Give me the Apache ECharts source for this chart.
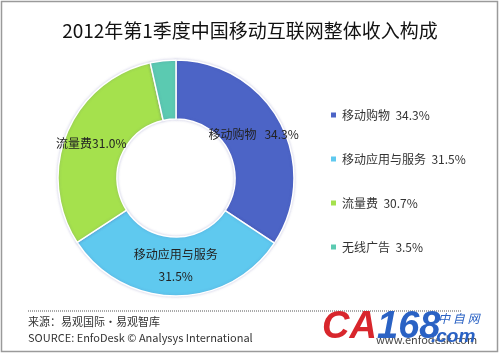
<!DOCTYPE html>
<html>
<head>
<meta charset="utf-8">
<script src="https://cdn.jsdelivr.net/npm/echarts@6/dist/echarts.min.js"></script>
<style>
  html, body { margin: 0; padding: 0; background: #fff; }
  #chart { width: 500px; height: 355px; }
</style>
</head>
<body>
<div id="chart"></div>
<script>
// 数据
const categories = ['移动购物', '移动应用与服务', '流量费', '无线广告'];
const shares = [34.3, 31.5, 30.7, 3.5];
// 图上标签（原图中流量费写的是 31.0%）
const sliceLabels = ['移动购物   34.3%', '移动应用与服务\n31.5%\n{s| }', '流量费31.0%', ''];
const colors = ['#4c64c6', '#5fc9ef', '#a5e14d', '#5bcab1'];

const font = '"Noto Sans CJK SC", "Noto Sans", sans-serif';

const chart = echarts.init(document.getElementById('chart'));

const option = {
    animation: false,
    textStyle: { fontFamily: font },
    title: {
        text: '2012年第1季度中国移动互联网整体收入构成',
        left: 'center',
        top: 16,
        textStyle: { fontFamily: font, fontSize: 19, fontWeight: 'normal', color: '#111' }
    },
    legend: {
        orient: 'vertical',
        left: 324,
        top: 104,
        itemWidth: 7,
        itemHeight: 7,
        itemGap: 32,
        icon: 'rect',
        data: categories,
        formatter: function (name) {
            const i = categories.indexOf(name);
            return name + '  ' + shares[i] + '%';
        },
        textStyle: { fontFamily: font, fontSize: 12, color: '#333' }
    },
    series: [
        {
            type: 'pie',
            center: [176, 178],
            radius: [59, 118],
            startAngle: 90,
            clockwise: true,
            color: colors,
            itemStyle: {
                borderColor: '#fff',
                borderWidth: 1.5,
                shadowColor: 'rgba(80,80,160,0.25)',
                shadowBlur: 3
            },
            label: {
                show: true,
                position: 'inside',
                fontFamily: font,
                fontSize: 12,
                color: '#222',
                lineHeight: 22,
                rich: {
                    s: { fontSize: 1, lineHeight: 9 }
                },
                formatter: function (p) { return sliceLabels[p.dataIndex]; }
            },
            labelLine: { show: false },
            emphasis: { disabled: true },
            data: categories.map((c, i) => ({
                name: c,
                value: shares[i],
                label: i === 0 ? { padding: [0, 6, 0, 0] } : {}
            }))
        }
    ],
    graphic: [
        // 外框
        {
            type: 'rect',
            shape: { x: 1.5, y: 1.5, width: 496, height: 350 },
            style: { fill: 'none', stroke: '#9a9a9a', lineWidth: 1.5 },
            silent: true
        },
        // 底部虚线
        {
            type: 'line',
            shape: { x1: 28, y1: 311, x2: 462, y2: 311 },
            style: { stroke: '#555', lineWidth: 1, lineDash: [1, 1] },
            silent: true
        },
        {
            type: 'text',
            left: 28,
            top: 316,
            style: { text: '来源：易观国际·易观智库', font: '11px ' + font, fill: '#333' }
        },
        {
            type: 'text',
            left: 28,
            top: 332,
            style: { text: 'SOURCE: EnfoDesk © Analysys International', font: '11px ' + font, fill: '#333' }
        },
        // 水印
        {
            type: 'text',
            left: 376,
            top: 334,
            style: { text: 'www.enfodesk.com', font: '11px ' + font, fill: '#444' }
        },
        {
            type: 'text',
            left: 322,
            top: 309,
            style: { text: 'CA', font: 'italic bold 38px "Liberation Sans", sans-serif', fill: '#d8262c' }
        },
        {
            type: 'text',
            left: 377,
            top: 309,
            style: { text: '168', font: 'italic bold 38px "Liberation Sans", sans-serif', fill: '#2a62c4' }
        },
        {
            type: 'text',
            left: 431,
            top: 327,
            style: { text: '.com', font: 'italic bold 19px "Liberation Sans", sans-serif', fill: '#2a62c4' }
        },
        {
            type: 'text',
            left: 438,
            top: 312,
            style: { text: '中 自 网', font: 'italic 12px ' + font, fill: '#2a62c4' }
        }
    ]
};

chart.setOption(option);

window.addEventListener('resize', () => {
    chart.resize();
});
</script>
</body>
</html>
